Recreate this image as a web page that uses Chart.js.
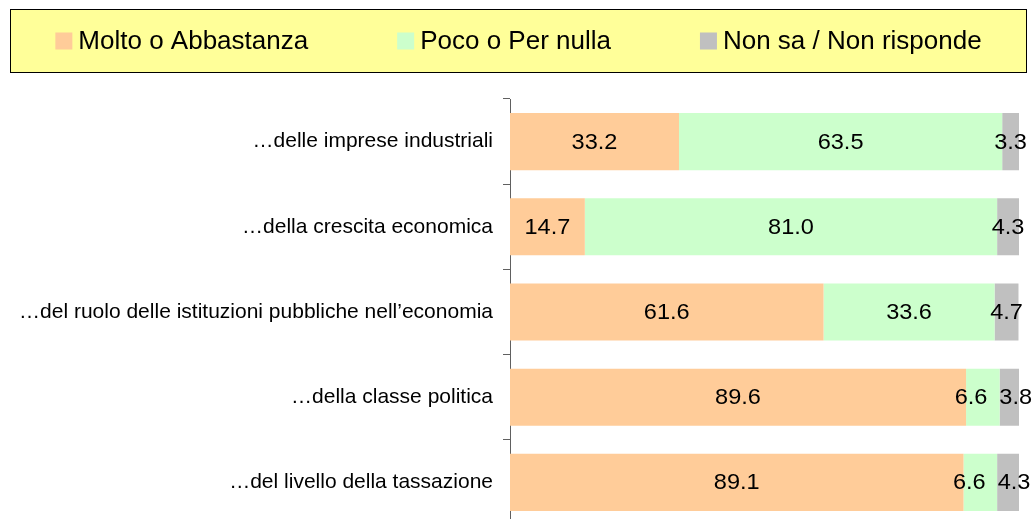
<!DOCTYPE html>
<html>
<head>
<meta charset="utf-8">
<script src="https://cdn.jsdelivr.net/npm/chart.js@4.4.1/dist/chart.umd.min.js"></script>
<style>
html,body{margin:0;padding:0;background:#fff;overflow:hidden;}
#wrap{width:1034px;height:527px;position:relative;}
</style>
</head>
<body>
<div id="wrap"><canvas id="c" width="1034" height="527"></canvas></div>
<script>
const categories = [
  '…delle imprese industriali',
  '…della crescita economica',
  '…del ruolo delle istituzioni pubbliche nell’economia',
  '…della classe politica',
  '…del livello della tassazione'
];
const seriesNames = ['Molto o Abbastanza', 'Poco o Per nulla', 'Non sa / Non risponde'];
const molto = [33.2, 14.7, 61.6, 89.6, 89.1];
const poco = [63.5, 81.0, 33.6, 6.6, 6.6];
const nonsa = [3.3, 4.3, 4.7, 3.8, 4.3];
const colors = ['#FFCC99', '#CCFFCC', '#C0C0C0'];

const FONT = '"Liberation Sans", Arial, sans-serif';

const legendBox = {
  id: 'legendBox',
  afterDraw(chart) {
    const ctx = chart.ctx;
    ctx.save();
    const bx = 10, by = 9, bw = 1017, bh = 64;
    ctx.fillStyle = '#FFFF99';
    ctx.fillRect(bx, by, bw, bh);
    ctx.strokeStyle = '#000';
    ctx.lineWidth = 1;
    ctx.strokeRect(bx + 0.5, by + 0.5, bw - 1, bh - 1);
    ctx.font = '26px ' + FONT;
    ctx.textBaseline = 'middle';
    ctx.textAlign = 'left';
    const sw = 17, gapT = 6, gap = 89;
    const widths = chart.data.datasets.map(d => sw + gapT + ctx.measureText(d.label).width);
    const total = widths.reduce((a, b) => a + b, 0) + gap * (widths.length - 1);
    let x = bx + bw / 2 - total / 2;
    const cy = by + bh / 2;
    chart.data.datasets.forEach((d, i) => {
      ctx.fillStyle = d.backgroundColor;
      ctx.fillRect(x, cy - 8.5, sw, sw);
      ctx.fillStyle = '#000';
      ctx.fillText(d.label, x + sw + gapT, cy + 1);
      x += widths[i] + gap;
    });
    ctx.restore();
  }
};

const valueLabels = {
  id: 'valueLabels',
  afterDatasetsDraw(chart) {
    const ctx = chart.ctx;
    ctx.save();
    ctx.font = '22px ' + FONT;
    ctx.fillStyle = '#000';
    ctx.textAlign = 'center';
    ctx.textBaseline = 'middle';
    const sx = 1.07, gap = 12;
    const n = chart.data.labels.length;
    for (let i = 0; i < n; i++) {
      const items = chart.data.datasets.map((d, di) => {
        const el = chart.getDatasetMeta(di).data[i];
        const txt = d.data[i].toFixed(1);
        const w = ctx.measureText(txt).width * sx;
        return { txt, cx: (el.x + el.base) / 2, y: el.y, w };
      });
      for (let k = 1; k < items.length; k++) {
        const a = items[k - 1], b = items[k];
        const need = (a.cx + a.w / 2 + gap) - (b.cx - b.w / 2);
        if (need > 0) { a.cx -= need * 0.65; b.cx += need * 0.35; }
      }
      items.forEach(it => {
        ctx.save();
        ctx.translate(it.cx, it.y + 1);
        ctx.scale(sx, 1);
        ctx.fillText(it.txt, 0, 0);
        ctx.restore();
      });
    }
    ctx.restore();
  }
};

new Chart(document.getElementById('c'), {
  type: 'bar',
  data: {
    labels: categories,
    datasets: [
      { label: seriesNames[0], data: molto, backgroundColor: colors[0] },
      { label: seriesNames[1], data: poco, backgroundColor: colors[1] },
      { label: seriesNames[2], data: nonsa, backgroundColor: colors[2] }
    ]
  },
  options: {
    indexAxis: 'y',
    responsive: false,
    animation: false,
    events: [],
    layout: { padding: { top: 99, right: 15, bottom: 2, left: 0 } },
    datasets: { bar: { categoryPercentage: 1, barPercentage: 0.67, borderWidth: 0 } },
    plugins: { legend: { display: false }, tooltip: { enabled: false } },
    scales: {
      x: { stacked: true, min: 0, max: 100, display: false },
      y: {
        stacked: true,
        afterFit(scale) { scale.width = 510; scale.paddingTop = 0; scale.paddingBottom = 0; },
        border: { display: true, color: '#606060', width: 1 },
        grid: { display: true, drawOnChartArea: false, tickLength: 7, color: '#606060', offset: true },
        ticks: { color: '#000', font: { family: FONT, size: 21 }, padding: 10 }
      }
    }
  },
  plugins: [legendBox, valueLabels]
});
</script>
</body>
</html>
